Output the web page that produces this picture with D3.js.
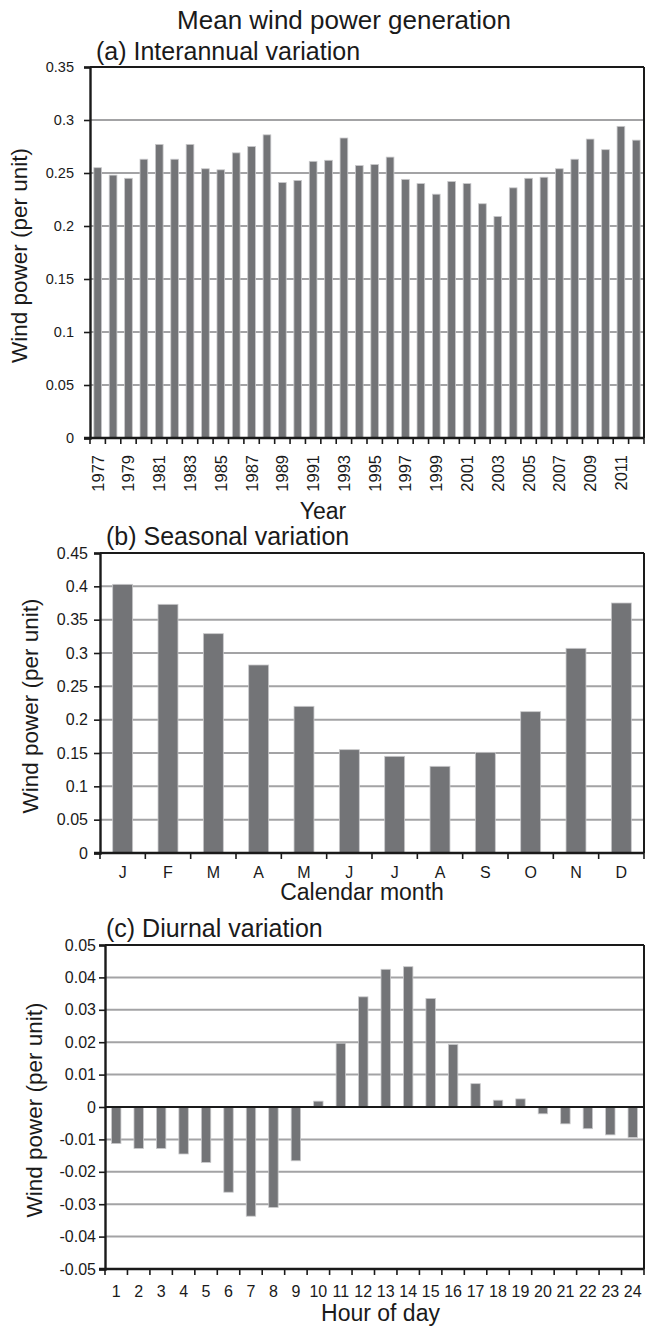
<!DOCTYPE html>
<html>
<head>
<meta charset="utf-8">
<script src="https://cdn.jsdelivr.net/npm/d3@7"></script>
<style>
  html, body { margin: 0; padding: 0; background: #fff; }
  svg { display: block; font-family: "Liberation Sans", Arial, sans-serif; }
</style>
</head>
<body>
<svg id="chart" width="646" height="1328"></svg>
<script>
// Annual mean generation, 1977-2012
const years = d3.range(1977, 2013);
const annualValues = [
  0.255, 0.248, 0.245, 0.263, 0.277, 0.263, 0.277, 0.254, 0.253, 0.269,
  0.275, 0.286, 0.241, 0.243, 0.261, 0.262, 0.283, 0.257, 0.258, 0.265,
  0.244, 0.240, 0.230, 0.242, 0.240, 0.221, 0.209, 0.236, 0.245, 0.246,
  0.254, 0.263, 0.282, 0.272, 0.294, 0.281
];
const annualTicks = [0, 0.05, 0.1, 0.15, 0.2, 0.25, 0.3, 0.35];

// Monthly mean generation
const months = ["J", "F", "M", "A", "M", "J", "J", "A", "S", "O", "N", "D"];
const monthlyValues = [0.403, 0.373, 0.329, 0.282, 0.220, 0.155, 0.145, 0.130, 0.151, 0.212, 0.307, 0.375];
const monthlyTicks = [0, 0.05, 0.1, 0.15, 0.2, 0.25, 0.3, 0.35, 0.4, 0.45];

// Hourly deviation from the daily mean
const hours = d3.range(1, 25);
const hourlyValues = [
  -0.0113, -0.0128, -0.0128, -0.0145, -0.0171, -0.0263, -0.0337, -0.0310,
  -0.0166, 0.0018, 0.0197, 0.0340, 0.0425, 0.0433, 0.0335, 0.0193,
  0.0072, 0.0021, 0.0025, -0.0021, -0.0052, -0.0067, -0.0086, -0.0094
];
const hourlyTicks = [-0.05, -0.04, -0.03, -0.02, -0.01, 0, 0.01, 0.02, 0.03, 0.04, 0.05];

const svg = d3.select("#chart");
const BAR = "#737477";
const GRID = "#a3a3a5";
const INK = "#1a1a1a";

// plain hyphen for negatives, shortest decimal form
const fmtTick = d => String(+d.toFixed(3)).replace("\u2212", "-");

svg.append("text")
  .attr("x", 344).attr("y", 29)
  .attr("text-anchor", "middle")
  .attr("font-size", 26)
  .attr("fill", INK)
  .text("Mean wind power generation");

function panel(cfg) {
  const g = svg.append("g");
  const x = d3.scaleBand().domain(cfg.cats).range([cfg.left, cfg.right]).paddingInner(cfg.pad).paddingOuter(cfg.pad / 2);
  const xb = d3.scaleBand().domain(cfg.cats).range([cfg.left, cfg.right]);
  const y = d3.scaleLinear().domain(cfg.domain).range([cfg.bottom, cfg.top]);

  // horizontal gridlines
  g.append("g").selectAll("line").data(cfg.ticks.filter(t => t !== cfg.domain[1] && t !== cfg.domain[0] && t !== cfg.base))
    .join("line")
    .attr("x1", cfg.left).attr("x2", cfg.right)
    .attr("y1", d => y(d)).attr("y2", d => y(d))
    .attr("stroke", GRID).attr("stroke-width", 2);

  // bars
  g.append("g").selectAll("rect").data(cfg.values)
    .join("rect")
    .attr("x", (d, i) => x(cfg.cats[i]))
    .attr("width", x.bandwidth())
    .attr("y", d => Math.min(y(d), y(cfg.base)))
    .attr("height", d => Math.abs(y(d) - y(cfg.base)))
    .attr("fill", BAR)
    .attr("stroke", "#c9c9cb").attr("stroke-width", 0.8);

  // frame: top and right edges
  g.append("line").attr("x1", cfg.left).attr("x2", cfg.right).attr("y1", cfg.top).attr("y2", cfg.top)
    .attr("stroke", INK).attr("stroke-width", 2);
  g.append("line").attr("x1", cfg.right).attr("x2", cfg.right).attr("y1", cfg.top).attr("y2", cfg.bottom)
    .attr("stroke", INK).attr("stroke-width", 2);

  // y axis
  const yAxis = d3.axisLeft(y).tickValues(cfg.ticks).tickSize(6).tickPadding(cfg.tickPad)
    .tickFormat(fmtTick);
  const ya = g.append("g").attr("transform", `translate(${cfg.left},0)`).call(yAxis);
  ya.select(".domain").attr("stroke", INK).attr("stroke-width", 2.4);
  ya.selectAll(".tick line").attr("stroke", INK).attr("stroke-width", 1.6);
  ya.selectAll(".tick text").attr("font-size", cfg.tickSize).attr("fill", INK)
    .attr("font-family", "Liberation Sans, Arial, sans-serif");

  // zero line (when distinct from the bottom edge)
  if (cfg.base !== cfg.domain[0]) {
    g.append("line").attr("x1", cfg.left).attr("x2", cfg.right).attr("y1", y(cfg.base)).attr("y2", y(cfg.base))
      .attr("stroke", INK).attr("stroke-width", 2);
  }

  // x axis along the bottom edge, ticks at category boundaries
  g.append("line").attr("x1", cfg.left - 6).attr("x2", cfg.right).attr("y1", cfg.bottom).attr("y2", cfg.bottom)
    .attr("stroke", INK).attr("stroke-width", 2.4);
  g.append("g").selectAll("line").data(d3.range(cfg.cats.length + 1))
    .join("line")
    .attr("x1", i => cfg.left + i * xb.step()).attr("x2", i => cfg.left + i * xb.step())
    .attr("y1", cfg.bottom).attr("y2", cfg.bottom + 6)
    .attr("stroke", INK).attr("stroke-width", 1.6);

  // category labels
  const labels = g.append("g").selectAll("text")
    .data(cfg.cats.map((c, i) => ({ c, i })).filter(d => cfg.labelEvery ? d.i % cfg.labelEvery === 0 : true))
    .join("text")
    .attr("fill", INK)
    .attr("font-size", cfg.catSize)
    .text(d => cfg.labelText ? cfg.labelText(d.c) : d.c);
  if (cfg.rotate) {
    labels.attr("text-anchor", "end")
      .attr("transform", d => `translate(${xb(d.c) + xb.bandwidth() / 2 + 6},${cfg.bottom + 17}) rotate(-90)`);
  } else {
    labels.attr("text-anchor", "middle")
      .attr("x", d => xb(d.c) + xb.bandwidth() / 2)
      .attr("y", cfg.bottom + cfg.catDy);
  }

  // axis titles
  g.append("text")
    .attr("transform", `translate(${cfg.yTitleX},${(cfg.top + cfg.bottom) / 2 + 3}) rotate(-90)`)
    .attr("text-anchor", "middle").attr("font-size", 22.5).attr("fill", INK)
    .text("Wind power (per unit)");
  g.append("text")
    .attr("x", (cfg.left + cfg.right) / 2 + cfg.xTitleDx).attr("y", cfg.xTitleY)
    .attr("text-anchor", "middle").attr("font-size", 23).attr("fill", INK)
    .text(cfg.xTitle);
  g.append("text")
    .attr("x", cfg.left + cfg.titleDx).attr("y", cfg.top - cfg.titleGap)
    .attr("font-size", 25).attr("fill", INK)
    .text(cfg.title);
}

panel({
  cats: years.map(String), values: annualValues, ticks: annualTicks,
  domain: [0, 0.35], base: 0,
  left: 90, right: 644, top: 67, bottom: 438, pad: 0.5,
  tickSize: 14.5, tickPad: 10, catSize: 16.5, rotate: true, labelEvery: 2,
  yTitleX: 27, xTitle: "Year", xTitleY: 519, xTitleDx: -44,
  title: "(a) Interannual variation", titleGap: 7, titleDx: 6
});

panel({
  cats: months.map((m, i) => m + i), values: monthlyValues, ticks: monthlyTicks,
  domain: [0, 0.45], base: 0,
  left: 100, right: 644, top: 553, bottom: 853, pad: 0.56,
  tickSize: 16, tickPad: 6, catSize: 16, catDy: 25, labelText: c => c[0],
  yTitleX: 38, xTitle: "Calendar month", xTitleY: 900, xTitleDx: -10,
  title: "(b) Seasonal variation", titleGap: 8, titleDx: 6
});

panel({
  cats: hours.map(String), values: hourlyValues, ticks: hourlyTicks,
  domain: [-0.05, 0.05], base: 0,
  left: 105, right: 644, top: 945, bottom: 1269, pad: 0.58,
  tickSize: 16, tickPad: 3, catSize: 16, catDy: 28,
  yTitleX: 42, xTitle: "Hour of day", xTitleY: 1321, xTitleDx: 6,
  title: "(c) Diurnal variation", titleGap: 8, titleDx: 1
});
</script>
</body>
</html>
